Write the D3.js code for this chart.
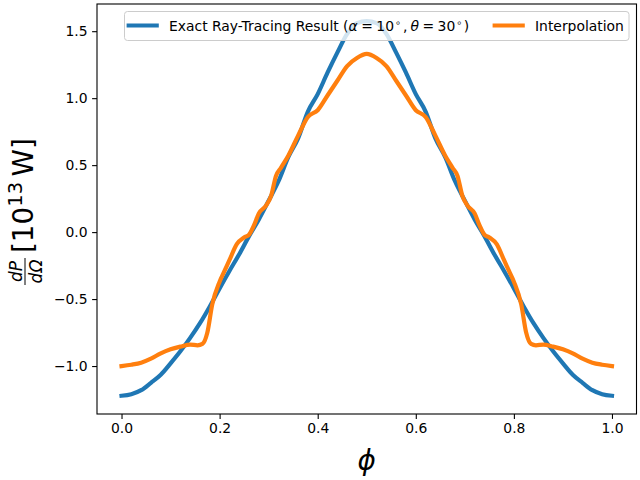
<!DOCTYPE html>
<html>
<head>
<meta charset="utf-8">
<script src="https://cdn.jsdelivr.net/npm/d3@7"></script>
<style>
  body { margin: 0; background: #fff; }
  svg { display: block; font-family: "DejaVu Sans", sans-serif; }
</style>
</head>
<body>
<svg width="640" height="480"></svg>
<script>
// exact ray-tracing result, sampled every 0.02 in phi
const phiExact = [0.00, 0.02, 0.04, 0.06, 0.08, 0.10, 0.12, 0.14, 0.16, 0.18,
  0.20, 0.22, 0.24, 0.26, 0.28, 0.30, 0.32, 0.34, 0.36, 0.38,
  0.40, 0.42, 0.44, 0.46, 0.48, 0.50, 0.52, 0.54, 0.56, 0.58,
  0.60, 0.62, 0.64, 0.66, 0.68, 0.70, 0.72, 0.74, 0.76, 0.78,
  0.80, 0.82, 0.84, 0.86, 0.88, 0.90, 0.92, 0.94, 0.96, 0.98, 1.00];
const exact = [-1.222, -1.21, -1.18, -1.125, -1.065, -0.98, -0.89, -0.79, -0.68, -0.555,
  -0.42, -0.29, -0.165, -0.03, 0.095, 0.235, 0.38, 0.56, 0.70, 0.90,
  1.03, 1.19, 1.34, 1.48, 1.56, 1.575, 1.56, 1.48, 1.34, 1.19,
  1.03, 0.90, 0.70, 0.56, 0.38, 0.235, 0.095, -0.03, -0.165, -0.29,
  -0.42, -0.555, -0.68, -0.79, -0.89, -0.98, -1.065, -1.125, -1.18, -1.21, -1.222];

// interpolation curve
const phiInterp = [0.00, 0.02, 0.04, 0.06, 0.08, 0.10, 0.12, 0.14, 0.155, 0.165,
  0.175, 0.185, 0.20, 0.21, 0.22, 0.235, 0.25, 0.26, 0.27, 0.28,
  0.295, 0.305, 0.315, 0.325, 0.34, 0.36, 0.38, 0.40, 0.42, 0.44,
  0.46, 0.48, 0.50, 0.52, 0.54, 0.56, 0.58, 0.60, 0.62, 0.64,
  0.66, 0.675, 0.685, 0.695, 0.705, 0.72, 0.73, 0.74, 0.75, 0.765,
  0.78, 0.79, 0.80, 0.815, 0.825, 0.835, 0.845, 0.86, 0.88, 0.90,
  0.92, 0.94, 0.96, 0.98, 1.00];
const interp = [-1.0, -0.99, -0.975, -0.945, -0.905, -0.875, -0.855, -0.84, -0.845, -0.835,
  -0.75, -0.54, -0.37, -0.29, -0.21, -0.09, -0.04, -0.02, 0.05, 0.14,
  0.20, 0.27, 0.42, 0.48, 0.57, 0.72, 0.86, 0.91, 1.02, 1.13,
  1.24, 1.30, 1.33, 1.30, 1.24, 1.13, 1.02, 0.91, 0.86, 0.72,
  0.57, 0.48, 0.42, 0.27, 0.20, 0.14, 0.05, -0.02, -0.04, -0.09,
  -0.21, -0.29, -0.37, -0.54, -0.75, -0.835, -0.845, -0.84, -0.855, -0.875,
  -0.905, -0.945, -0.975, -0.99, -1.0];

const xTicks = [0.0, 0.2, 0.4, 0.6, 0.8, 1.0];
const yTicks = [-1.0, -0.5, 0.0, 0.5, 1.0, 1.5];
const seriesNames = ["Exact Ray-Tracing Result", "Interpolation"];
const colors = ["#1f77b4", "#ff7f0e"];

const svg = d3.select("svg");
const plot = { left: 97, right: 636.5, top: 4, bottom: 414 };

const x = d3.scaleLinear().domain([-0.05, 1.05]).range([plot.left, plot.right]);
const y = d3.scaleLinear().domain([-1.358, 1.703]).range([plot.bottom, plot.top]);

const fmt = (v) => d3.format(".1f")(v).replace("-", "\u2212");

// axes
const xAxis = svg.append("g")
  .attr("transform", "translate(0," + plot.bottom + ")")
  .call(d3.axisBottom(x).tickValues(xTicks).tickFormat(fmt).tickSize(4.9).tickPadding(4.5));
const yAxis = svg.append("g")
  .attr("transform", "translate(" + plot.left + ",0)")
  .call(d3.axisLeft(y).tickValues(yTicks).tickFormat(fmt).tickSize(4.9).tickPadding(4.5));

[xAxis, yAxis].forEach((a) => {
  a.select(".domain").remove();
  a.selectAll("line").attr("stroke", "#000").attr("stroke-width", 1.1);
  a.selectAll("text").attr("fill", "#000").style("font-size", "13.9px")
    .style("font-family", "DejaVu Sans");
});

// lines
const line = d3.line()
  .x((d) => x(d[0]))
  .y((d) => y(d[1]))
  .curve(d3.curveMonotoneX);

const curves = [d3.zip(phiExact, exact), d3.zip(phiInterp, interp)];
curves.forEach((c, i) => {
  svg.append("path")
    .datum(c)
    .attr("fill", "none")
    .attr("stroke", colors[i])
    .attr("stroke-width", 4.2)
    .attr("stroke-linecap", "square")
    .attr("stroke-linejoin", "round")
    .attr("d", line);
});

// frame
svg.append("rect")
  .attr("x", plot.left).attr("y", plot.top)
  .attr("width", plot.right - plot.left).attr("height", plot.bottom - plot.top)
  .attr("fill", "none").attr("stroke", "#000").attr("stroke-width", 1.1);

// legend
const legend = svg.append("g");
legend.append("rect")
  .attr("x", 124.5).attr("y", 11.5).attr("width", 504.5).attr("height", 29)
  .attr("rx", 3)
  .attr("fill", "#fff").attr("fill-opacity", 0.8)
  .attr("stroke", "#ccc").attr("stroke-width", 1);

const handleX = [128.7, 494.7];
handleX.forEach((hx, i) => {
  legend.append("line")
    .attr("x1", hx).attr("x2", hx + 28).attr("y1", 25.5).attr("y2", 25.5)
    .attr("stroke", colors[i]).attr("stroke-width", 4.2)
    .attr("stroke-linecap", "square");
});

// first entry, math part spaced by hand
const t1 = legend.append("text").attr("x", 169).attr("y", 30.5).style("font-size", "13.9px");
t1.append("tspan").text(seriesNames[0] + " (");
t1.append("tspan").style("font-style", "italic").text("α");
t1.append("tspan").attr("dx", 3.5).text("=");
t1.append("tspan").attr("dx", 3.5).text("10");
t1.append("tspan").attr("dx", 1).attr("dy", -5).style("font-size", "9.5px").text("∘");
t1.append("tspan").attr("dx", 2).attr("dy", 5).text(",");
t1.append("tspan").attr("dx", 3).style("font-style", "italic").text("θ");
t1.append("tspan").attr("dx", 3.5).text("=");
t1.append("tspan").attr("dx", 3.5).text("30");
t1.append("tspan").attr("dx", 1).attr("dy", -5).style("font-size", "9.5px").text("∘");
t1.append("tspan").attr("dx", 1.5).attr("dy", 5).text(")");

legend.append("text").attr("x", 535).attr("y", 30.5).style("font-size", "13.9px")
  .text(seriesNames[1]);

// x label
svg.append("text")
  .attr("x", (plot.left + plot.right) / 2).attr("y", 470)
  .attr("text-anchor", "middle")
  .style("font-size", "27.8px").style("font-style", "italic")
  .text("ϕ");

// y label: dP/dΩ [10^13 W]
const yl = svg.append("g").attr("transform", "translate(0,287) rotate(-90)");
yl.append("text").attr("x", 15.5).attr("y", 22).attr("text-anchor", "middle")
  .style("font-size", "17px").style("font-style", "italic").text("dP");
yl.append("line").attr("x1", 2).attr("x2", 29).attr("y1", 25).attr("y2", 25)
  .attr("stroke", "#000").attr("stroke-width", 1);
yl.append("text").attr("x", 15.5).attr("y", 42).attr("text-anchor", "middle")
  .style("font-size", "17px").style("font-style", "italic").text("dΩ");
const main = yl.append("text").attr("x", 34).attr("y", 33).style("font-size", "27.8px");
main.append("tspan").text("[10");
main.append("tspan").attr("dy", -11).style("font-size", "19.5px").text("13");
main.append("tspan").attr("dy", 11).text("\u2009W]");
</script>
</body>
</html>
